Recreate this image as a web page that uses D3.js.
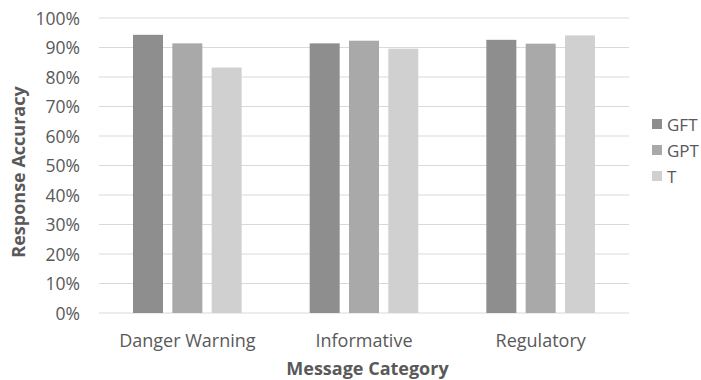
<!DOCTYPE html>
<html><head><meta charset="utf-8">
<script src="https://cdn.jsdelivr.net/npm/d3@7"></script>
<style>body{margin:0;background:#fff}svg{display:block}</style>
</head><body>
<svg id="c" width="701" height="380"></svg>
<script>
const categories = ["Danger Warning", "Informative", "Regulatory"];
const seriesNames = ["GFT", "GPT", "T"];
const GFT = [0.943, 0.914, 0.926];
const GPT = [0.914, 0.923, 0.913];
const T = [0.832, 0.896, 0.941];
const yTicks = [0, 0.1, 0.2, 0.3, 0.4, 0.5, 0.6, 0.7, 0.8, 0.9, 1.0];
const colors = ["#8e8e8e", "#a9a9a9", "#d0d0d0"];

const series = [GFT, GPT, T];
const svg = d3.select("#c");
const font = "'Open Sans', sans-serif";
const m = {left: 99, right: 629, top: 18, bottom: 313};

const x0 = d3.scaleBand().domain(categories).range([m.left, m.right]).padding(0);
const groupW = x0.bandwidth() * 0.615;
const x1 = d3.scaleBand().domain(seriesNames).range([0, groupW]).paddingInner(0.237).paddingOuter(0);
const y = d3.scaleLinear().domain([0, 1]).range([m.bottom, m.top]);

// gridlines
svg.append("g").selectAll("line").data(yTicks).join("line")
  .attr("x1", m.left).attr("x2", m.right)
  .attr("y1", d => y(d)).attr("y2", d => y(d))
  .attr("stroke", "#d9d9d9").attr("stroke-width", 1);

// y axis labels
const yAxis = d3.axisLeft(y).tickValues(yTicks).tickFormat(d3.format(".0%")).tickSize(0).tickPadding(0);
const ya = svg.append("g").attr("transform", `translate(80,0)`).call(yAxis);
ya.select(".domain").remove();
ya.selectAll("text").attr("font-family", font).attr("font-size", 17.5).attr("fill", "#595959").attr("dy", "0.36em");

// bars
const g = svg.append("g");
categories.forEach((c, ci) => {
  const gx = x0(c) + (x0.bandwidth() - groupW) / 2;
  seriesNames.forEach((s, si) => {
    g.append("rect")
      .attr("x", gx + x1(s)).attr("width", x1.bandwidth())
      .attr("y", y(series[si][ci])).attr("height", y(0) - y(series[si][ci]))
      .attr("fill", colors[si]);
  });
});

// x axis labels
const xAxis = d3.axisBottom(x0).tickSize(0).tickPadding(0);
const xa = svg.append("g").attr("transform", `translate(0,${m.bottom})`).call(xAxis);
xa.select(".domain").remove();
xa.selectAll("text").attr("font-family", font).attr("font-size", 18).attr("fill", "#595959").attr("y", 34).attr("dy", null);

// axis titles
svg.append("text").attr("x", 367.5).attr("y", 375)
  .attr("text-anchor", "middle").attr("font-family", font).attr("font-weight", "bold")
  .attr("font-size", 18).attr("fill", "#595959").text("Message Category");
svg.append("text").attr("transform", `translate(25,172) rotate(-90)`)
  .attr("text-anchor", "middle").attr("font-family", font).attr("font-weight", "bold")
  .attr("font-size", 18).attr("fill", "#595959").text("Response Accuracy");

// legend
const lg = svg.append("g").attr("transform", "translate(652,125)");
seriesNames.forEach((s, i) => {
  lg.append("rect").attr("x", 0).attr("y", i * 26 - 6).attr("width", 10).attr("height", 10).attr("fill", colors[i]);
  lg.append("text").attr("x", 15).attr("y", i * 26).attr("dy", "0.35em")
    .attr("font-family", font).attr("font-size", 17).attr("fill", "#595959").text(s);
});
</script>
</body></html>
